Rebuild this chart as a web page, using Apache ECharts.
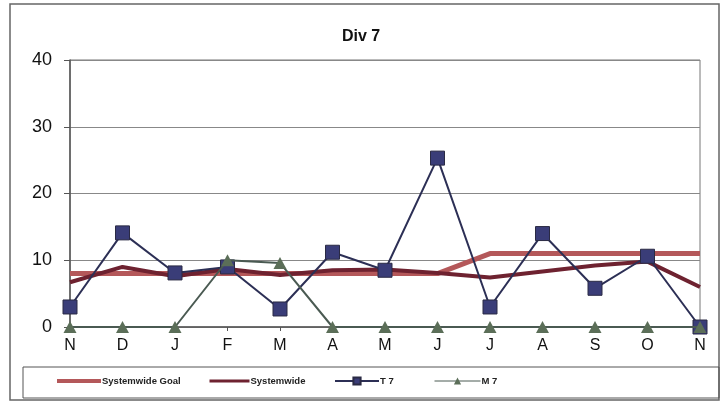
<!DOCTYPE html>
<html>
<head>
<meta charset="utf-8">
<script src="https://cdn.jsdelivr.net/npm/echarts@6/dist/echarts.min.js"></script>
<style>
  html, body { margin: 0; padding: 0; background: #fff; }
  #chart { width: 722px; height: 404px; }
</style>
</head>
<body>
<div id="chart"></div>
<script>
// Monthly categories, November through November
const months = ['N', 'D', 'J', 'F', 'M', 'A', 'M', 'J', 'J', 'A', 'S', 'O', 'N'];
const yTicks = [0, 10, 20, 30, 40];

const systemwideGoal = [8, 8, 8, 8, 8, 8, 8, 8, 11, 11, 11, 11, 11];
const systemwide = [6.7, 9, 7.6, 8.7, 7.8, 8.5, 8.6, 8.1, 7.4, 8.3, 9.2, 9.8, 6];
const t7 = [3, 14.1, 8.1, 9, 2.7, 11.2, 8.5, 25.3, 3, 14, 5.8, 10.6, 0];
const m7 = [0, 0, 0, 10, 9.6, 0, 0, 0, 0, 0, 0, 0, 0];

const FONT = 'Liberation Sans, Arial, sans-serif';

const chart = echarts.init(document.getElementById('chart'));

// One legend per series so each entry can sit at its own spot in the key box
function legendAt(name, left, width, height, lineWidth, hideSymbol) {
  const item = { name: name, lineStyle: { width: lineWidth } };
  if (hideSymbol) item.itemStyle = { opacity: 0 };
  return {
    data: [item],
    left: left,
    top: 376,
    itemWidth: width,
    itemHeight: height,
    padding: 0,
    selectedMode: false,
    textStyle: { fontFamily: FONT, fontSize: 9.5, fontWeight: 'bold', color: '#222', padding: [0, 0, 0, -4] }
  };
}

chart.setOption({
  animation: false,
  backgroundColor: '#fff',
  title: {
    text: 'Div 7',
    left: 'center',
    top: 24,
    textStyle: { fontFamily: FONT, fontSize: 16, fontWeight: 'bold', color: '#111' }
  },
  grid: {
    left: 70, right: 22, top: 60, bottom: 77,
    show: true, borderColor: '#777', borderWidth: 1, backgroundColor: 'transparent'
  },
  legend: [
    legendAt('Systemwide Goal', 55, 44, 12, 4, true),
    legendAt('Systemwide', 208, 40, 12, 3, true),
    legendAt('T 7', 334, 44, 9, 2, false),
    legendAt('M 7', 434, 46, 9, 1, false)
  ],
  xAxis: {
    type: 'category',
    data: months,
    boundaryGap: false,
    axisLine: { lineStyle: { color: '#555', width: 1.5 } },
    axisTick: { show: true, alignWithLabel: true, length: 4, lineStyle: { color: '#555' } },
    axisLabel: { fontFamily: FONT, fontSize: 16, color: '#111', margin: 11 }
  },
  yAxis: {
    type: 'value',
    min: 0, max: 40, interval: 10,
    axisLine: { show: true, lineStyle: { color: '#555', width: 1.5 } },
    axisTick: { show: true, length: 6, lineStyle: { color: '#555' } },
    axisLabel: {
      fontFamily: FONT, fontSize: 18, color: '#111', margin: 18,
      formatter: v => (yTicks.includes(v) ? String(v) : '')
    },
    splitLine: { show: true, lineStyle: { color: '#888', width: 1 } }
  },
  series: [
    {
      name: 'Systemwide Goal',
      type: 'line',
      data: systemwideGoal,
      symbol: 'none',
      z: 2,
      lineStyle: { color: '#b4585a', width: 5 },
      itemStyle: { color: '#b4585a' }
    },
    {
      name: 'Systemwide',
      type: 'line',
      data: systemwide,
      symbol: 'none',
      z: 3,
      lineStyle: { color: '#6e2230', width: 4 },
      itemStyle: { color: '#6e2230' }
    },
    {
      name: 'T 7',
      type: 'line',
      data: t7,
      symbol: 'rect',
      symbolSize: 14,
      z: 4,
      lineStyle: { color: '#2c2f55', width: 2 },
      itemStyle: { color: '#3a3d78', borderColor: '#2a2a44', borderWidth: 1 }
    },
    {
      name: 'M 7',
      type: 'line',
      data: m7,
      symbol: 'triangle',
      symbolSize: [13, 12],
      z: 5,
      lineStyle: { color: '#4a5a52', width: 2 },
      itemStyle: { color: '#5b6e58' }
    }
  ],
  graphic: [
    {
      type: 'rect',
      shape: { x: 10, y: 4, width: 709, height: 396 },
      style: { fill: 'none', stroke: '#666', lineWidth: 1.5 },
      silent: true, z: -1
    },
    {
      type: 'rect',
      shape: { x: 23, y: 367, width: 696, height: 31 },
      style: { fill: 'none', stroke: '#555', lineWidth: 1 },
      silent: true, z: -1
    }
  ]
});
</script>
</body>
</html>
